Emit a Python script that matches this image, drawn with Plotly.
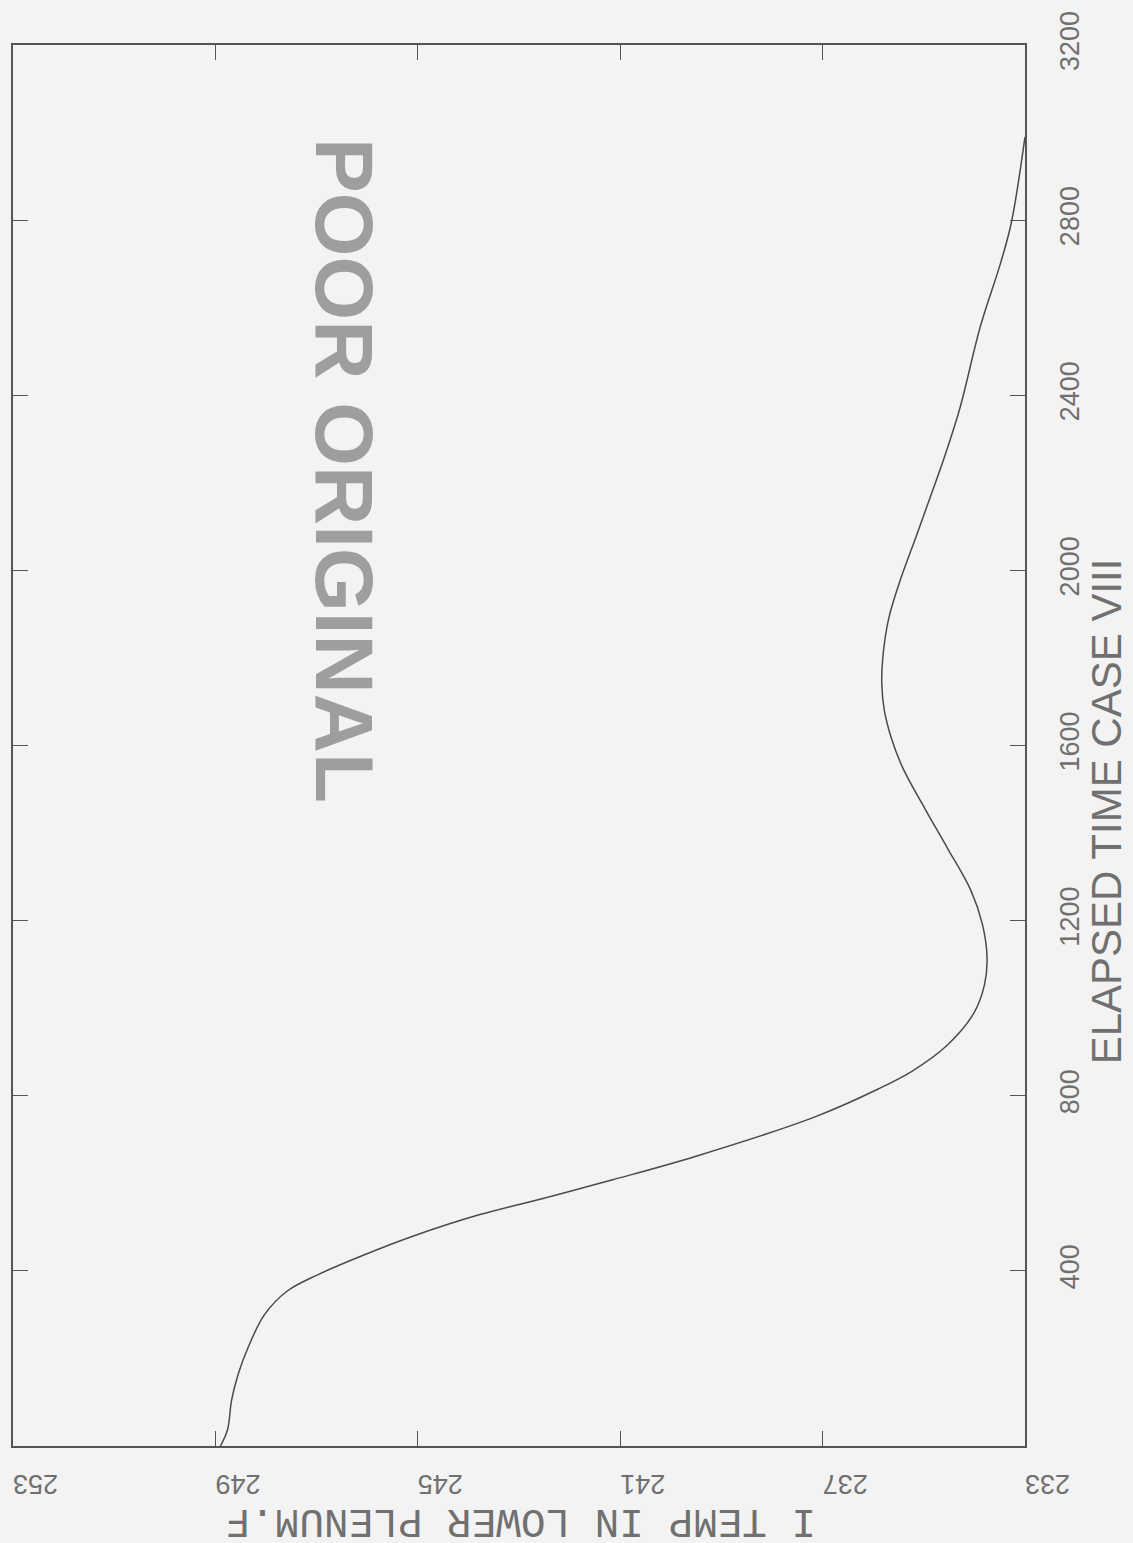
import plotly.graph_objects as go

# ---- data read from the (rotated) chart ----
time_s = [0, 37, 105, 164, 226, 300, 354, 391, 435, 479, 528, 567, 608, 662,
          750, 816, 857, 913, 987, 1054, 1116, 1191, 1269, 1367, 1452, 1550,
          1620, 1680, 1740, 1801, 1892, 1983, 2081, 2165, 2256, 2369, 2558,
          2703, 2794, 2990]
temp_f = [248.90, 248.76, 248.68, 248.55, 248.35, 248.03, 247.58, 246.98,
          246.09, 245.10, 243.79, 242.47, 241.15, 239.50, 237.19, 235.89,
          235.22, 234.56, 234.02, 233.80, 233.75, 233.84, 234.07, 234.54,
          234.96, 235.42, 235.65, 235.78, 235.83, 235.81, 235.69, 235.45,
          235.14, 234.88, 234.60, 234.29, 233.88, 233.48, 233.27, 233.00]

temp_ticks = [253, 249, 245, 241, 237, 233]
temp_labels = ["253", "249", "245", "241", "237", "233"]
time_ticks = [400, 800, 1200, 1600, 2000, 2400, 2800, 3200]
time_labels = ["400", "800", "1200", "1600", "2000", "2400", "2800", "3200"]

x_title = "I TEMP IN LOWER PLENUM.F"
y_title = "ELAPSED TIME CASE VIII"
stamp = "POOR ORIGINAL"

SANS = "Liberation Sans, Arial, sans-serif"
MONO = "Liberation Mono, DejaVu Sans Mono, monospace"
INK = "#707070"
BG = "#f3f3f3"

fig = go.Figure()
fig.add_trace(go.Scatter(
    x=temp_f, y=time_s, mode="lines",
    line=dict(color="#4a4a4a", width=1.5, shape="spline", smoothing=1.0),
    showlegend=False, hoverinfo="skip",
))

fig.update_layout(
    width=1133, height=1543,
    margin=dict(l=11, r=108, t=43, b=97),
    paper_bgcolor=BG, plot_bgcolor=BG,
    showlegend=False,
    xaxis=dict(
        range=[253, 233], tickmode="array", tickvals=temp_ticks, ticktext=temp_labels,
        ticks="inside", ticklen=15, tickwidth=1.3, tickcolor="#555",
        showline=True, linecolor="#555", linewidth=1.8, mirror="ticks",
        showgrid=False, zeroline=False, tickangle=180,
        ticklabelstandoff=22,
        tickfont=dict(family=SANS, size=27, color=INK),
    ),
    yaxis=dict(
        range=[0, 3200], side="right", tickmode="array", tickvals=time_ticks,
        ticktext=time_labels,
        ticks="inside", ticklen=15, tickwidth=1.3, tickcolor="#555",
        showline=True, linecolor="#555", linewidth=1.8, mirror="ticks",
        showgrid=False, zeroline=False, tickangle=-90,
        ticklabelstandoff=20,
        tickfont=dict(family=SANS, size=27, color=INK),
    ),
)

# axis titles (rotated like the scanned page)
fig.add_annotation(
    text=x_title, xref="paper", yref="paper", x=0.502, y=-0.054,
    xanchor="center", yanchor="middle", showarrow=False, textangle=180,
    font=dict(family=MONO, size=41, color=INK),
)
fig.add_annotation(
    text=y_title, xref="paper", yref="paper", x=1.080, y=0.453,
    xanchor="center", yanchor="middle", showarrow=False, textangle=-90,
    font=dict(family=SANS, size=42, color=INK),
)
# stamp
fig.add_annotation(
    text="<b>" + stamp + "</b>", xref="paper", yref="paper", x=0.327, y=0.696,
    xanchor="center", yanchor="middle", showarrow=False, textangle=90,
    font=dict(family=SANS, size=82, color="rgba(125,125,125,0.72)"),
)

fig.write_html("out.html")
